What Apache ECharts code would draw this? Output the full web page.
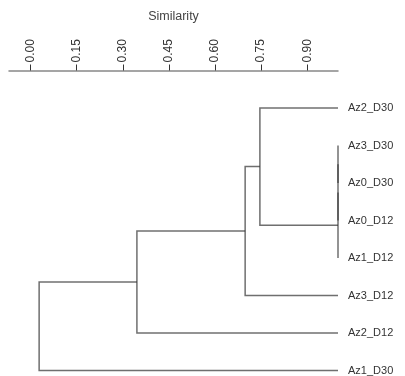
<!DOCTYPE html>
<html>
<head>
<meta charset="utf-8">
<script src="https://cdn.jsdelivr.net/npm/echarts@6/dist/echarts.min.js"></script>
<style>
  html, body { margin: 0; padding: 0; background: #fff; }
  #chart { width: 405px; height: 376px; }
</style>
</head>
<body>
<div id="chart"></div>
<script>
// leaves, top to bottom
const leaves = ['Az2_D30', 'Az3_D30', 'Az0_D30', 'Az0_D12', 'Az1_D12', 'Az3_D12', 'Az2_D12', 'Az1_D30'];
// merges: [child a, child b, similarity]; new node ids start after the leaves
const merges = [
  [1, 2, 1.0],
  [8, 3, 1.0],
  [9, 4, 1.0],
  [0, 10, 0.746],
  [11, 5, 0.698],
  [12, 6, 0.346],
  [13, 7, 0.028]
];
const simTicks = [0, 0.15, 0.30, 0.45, 0.60, 0.75, 0.90];

// node positions: x = similarity, y = leaf index (mean of children)
const nodes = leaves.map((n, i) => ({ x: 1.0, y: i }));
merges.forEach(m => {
  nodes.push({ x: m[2], y: (nodes[m[0]].y + nodes[m[1]].y) / 2 });
});
const segData = merges.map(m => {
  const a = nodes[m[0]], b = nodes[m[1]];
  return [m[2], a.x, a.y, b.x, b.y];
});

const chart = echarts.init(document.getElementById('chart'));
const option = {
  animation: false,
  grid: { left: 9, right: 67, top: 70.5, bottom: 5 },
  xAxis: {
    type: 'value',
    position: 'top',
    min: -0.07,
    max: 1.0,
    name: 'Similarity',
    nameLocation: 'middle',
    nameGap: 47,
    nameTextStyle: { color: '#444', fontSize: 12.5, fontFamily: 'Liberation Sans' },
    axisLine: { onZero: false, lineStyle: { color: '#888', width: 1.5 } },
    axisTick: { show: true, length: 6, customValues: simTicks, lineStyle: { color: '#333', width: 1 } },
    axisLabel: {
      customValues: simTicks,
      rotate: -90,
      margin: 8,
      color: '#333',
      fontSize: 12,
      fontFamily: 'Liberation Sans',
      formatter: v => v.toFixed(2)
    },
    splitLine: { show: false }
  },
  yAxis: {
    type: 'value',
    position: 'right',
    inverse: true,
    min: -1,
    max: 7,
    interval: 1,
    axisLine: { show: false },
    axisTick: { show: false },
    splitLine: { show: false },
    axisLabel: {
      margin: 10,
      color: '#333',
      fontSize: 11,
      fontFamily: 'Liberation Sans',
      formatter: v => leaves[v] || ''
    }
  },
  series: [{
    type: 'custom',
    clip: false,
    data: segData,
    renderItem: function (params, api) {
      const s = api.value(0);
      const p1 = api.coord([api.value(1), api.value(2)]);
      const p2 = api.coord([s, api.value(2)]);
      const p3 = api.coord([s, api.value(4)]);
      const p4 = api.coord([api.value(3), api.value(4)]);
      return {
        type: 'polyline',
        shape: { points: [p1, p2, p3, p4] },
        style: { stroke: 'rgba(50,50,50,0.7)', lineWidth: 1.5, fill: null }
      };
    }
  }]
};
chart.setOption(option);
</script>
</body>
</html>
